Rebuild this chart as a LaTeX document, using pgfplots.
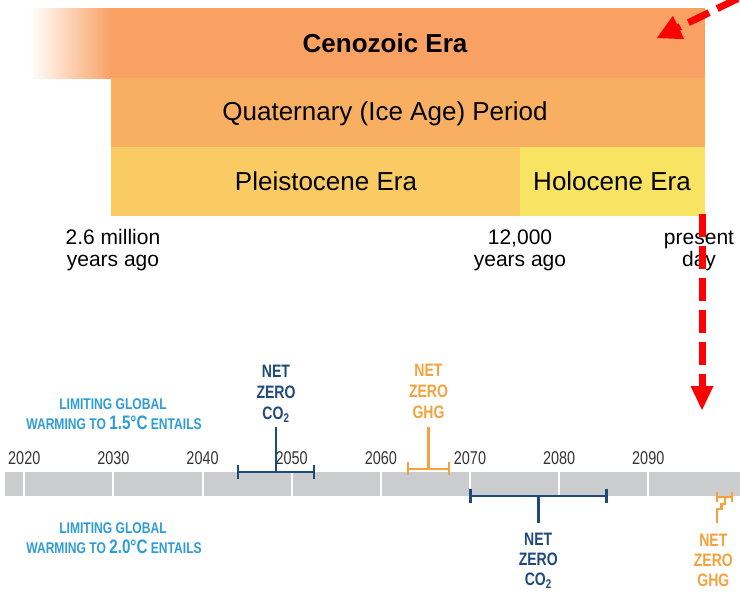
\documentclass[border=0pt]{standalone}
\usepackage{pgfplots}
\pgfplotsset{compat=1.18}
\usepackage{fontspec}
\setmainfont{Liberation Sans}
\newfontfamily\condfont[FakeStretch=0.78]{Liberation Sans}
\usetikzlibrary{arrows.meta}
\definecolor{ceno}{HTML}{F9A063}
\definecolor{quat}{HTML}{F9AF62}
\definecolor{pleist}{HTML}{FACB62}
\definecolor{holo}{HTML}{F8E462}
\definecolor{bargray}{HTML}{CBCCCE}
\definecolor{lblue}{HTML}{2D9CD7}
\definecolor{dblue}{HTML}{1E4A7B}
\definecolor{aorange}{HTML}{F7A13C}
\definecolor{tgray}{HTML}{333333}
\begin{document}
\begin{tikzpicture}
\useasboundingbox (0,0) rectangle (740pt,595pt);
% ---------- geological time scale (pixel units) ----------
\begin{axis}[at={(0pt,0pt)}, anchor=south west, scale only axis,
  width=740pt, height=595pt, xmin=0, xmax=740, ymin=0, ymax=595,
  y dir=reverse, hide axis]
\addplot[draw=none, fill=ceno] coordinates {(111,8) (705,8) (705,78) (111,78)} --cycle;
\addplot[draw=none, left color=white, right color=ceno] coordinates {(30,8) (112,8) (112,78) (30,78)} --cycle;
\addplot[draw=none, fill=quat] coordinates {(111,78) (705,78) (705,147) (111,147)} --cycle;
\addplot[draw=none, fill=pleist] coordinates {(111,147) (520,147) (520,216) (111,216)} --cycle;
\addplot[draw=none, fill=holo] coordinates {(520,147) (705,147) (705,216) (520,216)} --cycle;
\node[anchor=base, font=\bfseries\fontsize{26}{30}\selectfont] at (axis cs:385,52) {Cenozoic Era};
\node[anchor=base, font=\fontsize{26}{30}\selectfont] at (axis cs:385,120) {Quaternary (Ice Age) Period};
\node[anchor=base, font=\fontsize{26}{30}\selectfont] at (axis cs:326,190) {Pleistocene Era};
\node[anchor=base, font=\fontsize{26}{30}\selectfont] at (axis cs:612,190) {Holocene Era};
\node[anchor=base, font=\fontsize{21}{23}\selectfont] at (axis cs:113,244) {2.6 million};
\node[anchor=base, font=\fontsize{21}{23}\selectfont] at (axis cs:113,266) {years ago};
\node[anchor=base, font=\fontsize{21}{23}\selectfont] at (axis cs:520,244) {12,000};
\node[anchor=base, font=\fontsize{21}{23}\selectfont] at (axis cs:520,266) {years ago};
\node[anchor=base, font=\fontsize{21}{23}\selectfont] at (axis cs:699,244) {present};
\node[anchor=base, font=\fontsize{21}{23}\selectfont] at (axis cs:699,266) {day};
\node[anchor=base, text=lblue, font=\condfont\bfseries\fontsize{15.5}{18}\selectfont] at (axis cs:113,409) {LIMITING GLOBAL};
\node[anchor=base, text=lblue, font=\condfont\bfseries\fontsize{15.5}{18}\selectfont] at (axis cs:114,429) {WARMING TO {\fontsize{19.5}{20}\selectfont 1.5°C} ENTAILS};
\node[anchor=base, text=lblue, font=\condfont\bfseries\fontsize{15.5}{18}\selectfont] at (axis cs:113,533) {LIMITING GLOBAL};
\node[anchor=base, text=lblue, font=\condfont\bfseries\fontsize{15.5}{18}\selectfont] at (axis cs:114,553) {WARMING TO {\fontsize{19.5}{20}\selectfont 2.0°C} ENTAILS};
% red dashed arrows
\addplot[red, line width=7pt, dash pattern=on 23pt off 9pt,
  -{Triangle[length=24pt, width=23pt, line width=0pt]}] coordinates {(702,214) (702,410)};
\addplot[red, line width=7pt, dash pattern=on 23pt off 9pt,
  -{Triangle[length=24pt, width=26pt, line width=0pt]}] coordinates {(795.4,-29.5) (657,38)};
\end{axis}
% ---------- 2020-2100 timeline (years) ----------
\begin{axis}[at={(5pt,99pt)}, anchor=south west, scale only axis,
  width=735pt, height=24pt, xmin=2017.84, xmax=2100.29, ymin=99, ymax=123,
  clip=false, axis background/.style={fill=bargray},
  axis line style={draw=none}, major tick length=0pt, ytick=\empty,
  xtick={2020,2030,2040,2050,2060,2070,2080,2090},
  xticklabels={2020,2030,2040,2050,2060,2070,2080,2090},
  xticklabel pos=upper,
  xticklabel style={inner sep=0pt, text=tgray, font=\condfont\fontsize{18.5}{20}\selectfont, yshift=7.5pt},
  xmajorgrids, major grid style={white, line width=2pt},
  range/.style 2 args={draw=none, mark=none, error bars/.cd, x dir=both, x explicit,
    error mark=|, error bar style={#1, line width=2.8pt, solid},
    error mark options={#1, line width=2.8pt, mark size=#2, solid}}]
% 1.5C net zero CO2
\addplot[dblue, line width=2.8pt] coordinates {(2048.24,123) (2048.24,168)};
\addplot[range={dblue}{7pt}] coordinates {(2048.24,123) +- (4.26,0)};
% 1.5C net zero GHG
\addplot[aorange, line width=2.8pt] coordinates {(2065.35,126) (2065.35,168)};
\addplot[range={aorange}{6.5pt}] coordinates {(2065.35,126) +- (2.3,0)};
% 2.0C net zero CO2
\addplot[dblue, line width=2.8pt] coordinates {(2077.66,99) (2077.66,72)};
\addplot[range={dblue}{7pt}] coordinates {(2077.66,99) +- (7.63,0)};
% 2.0C net zero GHG
\addplot[aorange, line width=2.5pt] coordinates {(2098.61,98) (2098.61,91) (2098.2,91) (2098.2,86) (2097.71,86) (2097.71,72)};
\addplot[range={aorange}{5pt}] coordinates {(2098.55,98) +- (0.84,0)};
\node[anchor=north, align=center, inner sep=0pt, text=dblue, font=\condfont\bfseries\fontsize{18}{21}\selectfont] at (axis cs:2048.24,230) {NET\\ZERO\\CO\textsubscript{2}};
\node[anchor=north, align=center, inner sep=0pt, text=aorange, font=\condfont\bfseries\fontsize{18}{21}\selectfont] at (axis cs:2065.35,231) {NET\\ZERO\\GHG};
\node[anchor=north, align=center, inner sep=0pt, text=dblue, font=\condfont\bfseries\fontsize{18}{20}\selectfont] at (axis cs:2077.66,62) {NET\\ZERO\\CO\textsubscript{2}};
\node[anchor=north, align=center, inner sep=0pt, text=aorange, font=\condfont\bfseries\fontsize{18}{20}\selectfont] at (axis cs:2097.3,61) {NET\\ZERO\\GHG};
\end{axis}
\end{tikzpicture}
\end{document}
